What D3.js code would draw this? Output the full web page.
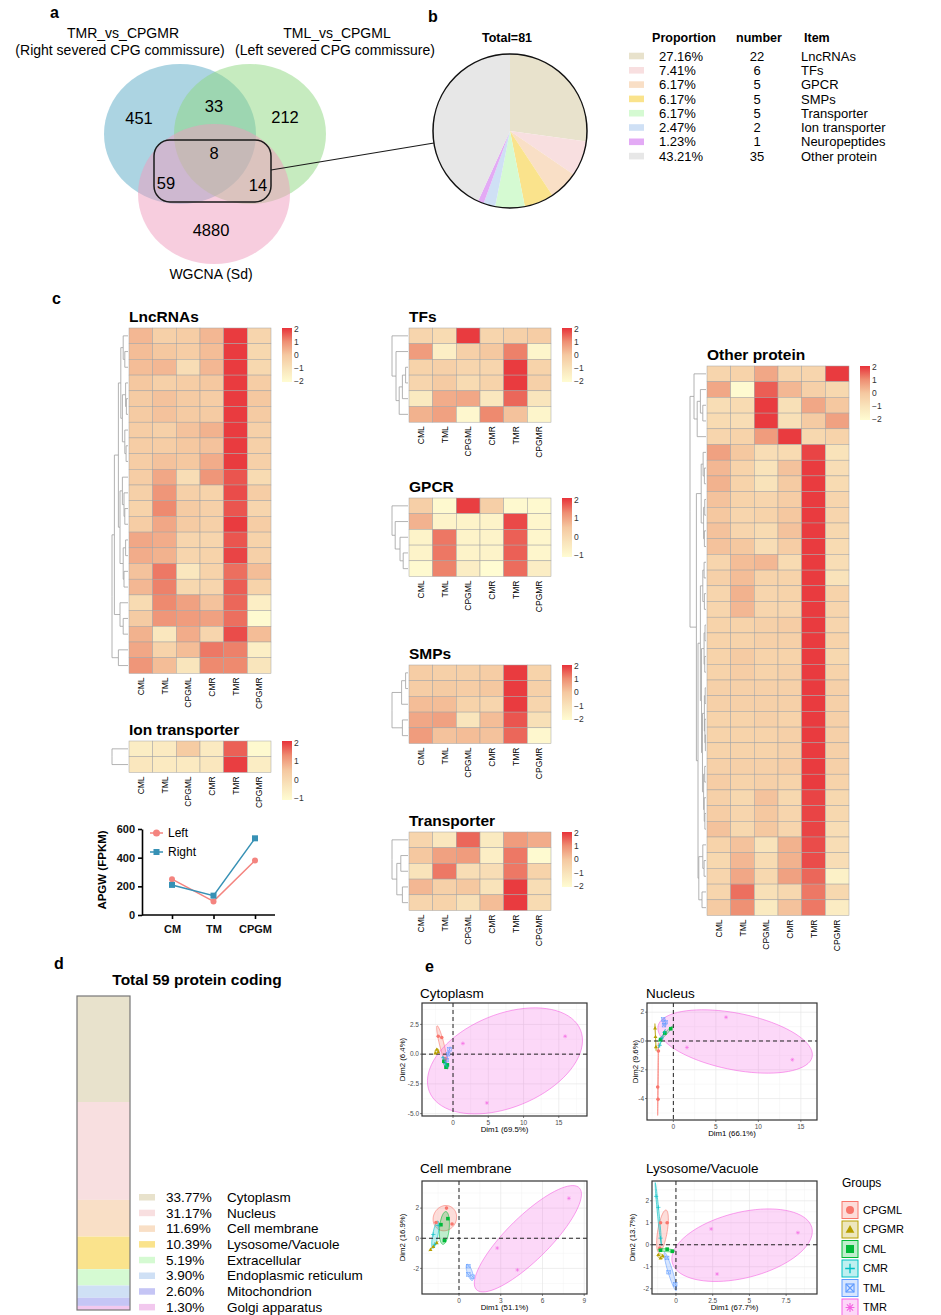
<!DOCTYPE html>
<html>
<head>
<meta charset="utf-8">
<script src="https://cdn.jsdelivr.net/npm/d3@7"></script>
<style>
  body { margin: 0; background: #fff; }
  svg { display: block; font-family: "Liberation Sans", Arial, Helvetica, sans-serif; }
</style>
</head>
<body>
<div id="mount"></div>
<script>
'use strict';

// ---------- data ----------

// a: Venn region counts
const vennCounts = [451, 33, 212, 8, 59, 14, 4880];

// b: overlap composition
const pieItems = ['LncRNAs', 'TFs', 'GPCR', 'SMPs', 'Transporter', 'Ion transporter', 'Neuropeptides', 'Other protein'];
const pieCounts = [22, 6, 5, 5, 5, 2, 1, 35];
const piePct = ['27.16%', '7.41%', '6.17%', '6.17%', '6.17%', '2.47%', '1.23%', '43.21%'];
const pieColors = ['#e8e2cc', '#f8dfe0', '#f9dfc6', '#fae38c', '#d5fad2', '#cfe0f5', '#e3aaf5', '#e7e7e7'];

// c: heatmaps (z-scores), columns in this order
const cols = ['CML', 'TML', 'CPGML', 'CMR', 'TMR', 'CPGMR'];

const lncRNAs = [
  [0.3, -0.3, -0.2, 0.3, 2, -0.5],
  [0.2, 0, -0.2, 0.2, 2, -0.6],
  [0.2, 0.3, -0.8, 0.3, 2, -0.6],
  [0, -0.3, -0.2, 0, 2, -0.2],
  [-0.1, 0.1, -0.1, -0.2, 2, 0],
  [-0.1, 0.1, -0.1, -0.1, 2, -0.1],
  [-0.2, -0.3, 0.1, 0.4, 2, -0.3],
  [-0.2, -0.2, 0, 0.1, 2, -0.3],
  [-0.2, 0.1, 0, 0.5, 2, -0.3],
  [-0.2, 0.6, -0.8, 0.9, 1.7, -0.7],
  [-0.3, 0.9, -0.3, -0.4, 1.8, -0.2],
  [-0.4, 1.1, -0.1, -0.3, 1.7, -0.5],
  [-0.2, 0.6, -0.1, -0.3, 2, -0.2],
  [0.6, 0.5, -0.5, -0.5, 1.7, -0.4],
  [0.5, 0.4, -0.5, -0.4, 1.9, -0.3],
  [0.1, 1.3, -1.2, -0.4, 1.4, 0.2],
  [0.3, 1.2, -0.6, -0.5, 1.6, -0.4],
  [-0.7, 1.1, 0.7, 0.1, 1.5, -1.5],
  [-0.1, 0.9, 0.8, 0.7, 1.4, -2],
  [0.4, -1.2, 0.5, -0.5, 1.8, 0.2],
  [0.6, -0.4, 0.2, 1.3, 1.2, -1.5],
  [0.9, 0.2, -1.1, 1.1, 1.1, -1.1]
];
const tfs = [
  [-0.5, -0.7, 2, -0.5, -0.3, -0.2],
  [0.8, -1.5, -0.3, 0, 1.2, -1.8],
  [-0.4, -0.3, -0.5, -0.5, 2, -0.4],
  [-0.5, -0.1, -0.7, -0.4, 2, -0.3],
  [-1.3, 0.5, 0.6, -1.2, 1.5, -1.1],
  [0.4, 0.7, -1.9, 1.1, 0.1, -1.8]
];
const gpcr = [
  [0.3, -1, 2, 0.3, -1, -1],
  [0.8, -0.8, -0.8, -0.8, 1.9, -0.9],
  [-0.8, 1.5, -0.8, -0.8, 1.7, -0.9],
  [-0.8, 1.5, -0.8, -0.8, 1.7, -0.9],
  [-1, 1.4, -0.6, -1.1, 1.6, -0.6]
];
const smps = [
  [-0.2, -0.3, -0.3, -0.2, 2, -0.4],
  [-0.2, -0.1, -0.2, 0, 2, -0.3],
  [0.2, 0.2, -0.4, -0.5, 2, -0.5],
  [0.6, 0.7, -1.1, 0.2, 1.7, -0.9],
  [0.8, 0.1, 0.2, 0.1, 1.5, -1.9]
];
const transporter = [
  [-0.5, -1.2, 1.5, -1.3, 0.8, 0.5],
  [0, 0.7, 0.8, -1.5, 1.3, -2],
  [-1, 1.3, -0.8, -0.8, 1.3, -0.4],
  [0.3, -0.3, 0, -1, 2, -0.8],
  [-0.5, -0.4, -0.9, 0.2, 2, -0.7]
];
const ionTransporter = [
  [-0.6, -0.5, 0.4, -0.5, 1.7, -1],
  [-0.4, -0.5, -0.5, -0.4, 2, -0.6]
];
const otherProtein = [
  [-0.5, -0.4, 0.6, -0.5, -0.5, 2],
  [0.6, -2, 1.6, 0.3, -0.3, -0.6],
  [-0.8, -0.7, 2, -0.9, 0.6, 0],
  [-0.7, -0.8, 2, -0.9, -0.1, 0.7],
  [-0.5, -0.4, 0.8, 2, -0.6, -0.4],
  [0.7, 0, -0.8, -0.7, 1.9, -1],
  [0.3, -0.4, -1, 0.1, 2, -0.8],
  [0.4, -0.4, -1, -0.1, 2, -0.7],
  [0.1, -0.4, -0.5, -0.2, 2, -0.5],
  [0, -0.5, -0.4, 0, 2, -0.5],
  [0.1, -0.5, -0.7, 0.1, 2, -0.6],
  [0.1, 0, -0.8, -0.2, 2, -0.7],
  [-0.5, 0.2, 0.3, -0.7, 2, -0.8],
  [-0.3, 0.2, -0.4, -0.4, 2, -1],
  [-0.5, 0.4, -0.5, -0.4, 2, -0.4],
  [-0.5, 0.3, -0.5, -0.5, 2, -0.5],
  [-0.4, -0.4, -0.3, -0.2, 2, -0.5],
  [-0.4, -0.4, -0.3, -0.3, 2, -0.4],
  [-0.4, -0.1, -0.4, -0.4, 2, -0.6],
  [-0.4, -0.2, -0.4, -0.3, 2, -0.4],
  [-0.3, -0.3, -0.3, -0.3, 2, -0.3],
  [-0.3, -0.3, -0.3, -0.3, 2, -0.3],
  [-0.4, -0.4, -0.3, -0.4, 2, -0.3],
  [-0.4, -0.4, -0.4, -0.3, 2, -0.3],
  [-0.4, -0.4, -0.4, -0.3, 2, -0.3],
  [-0.3, -0.3, -0.3, -0.2, 2, -0.3],
  [-0.2, -0.4, -0.3, -0.4, 2, -0.4],
  [-0.3, -0.6, 0.1, -0.6, 1.9, -0.6],
  [-0.2, -0.5, 0, -0.5, 1.9, -0.6],
  [0.1, -0.6, 0, -0.5, 1.9, -0.8],
  [-0.4, 0.1, -1, 0.4, 1.8, -0.8],
  [-0.6, 0.3, -0.7, 0.4, 1.8, -0.8],
  [-0.5, 0.6, -0.6, 0.7, 1.5, -1.6],
  [-0.5, 1.4, -0.9, -0.6, 1.3, -0.6],
  [-0.1, 1.0, -1.3, 0.1, 1.3, -1.4]
];

// row dendrograms: [mergeHeight, left, right], leaves are row indices
const lncTree = [1.0,
  [0.85,
    [0.6,
      [0.45, [0.3, 0, [0.2, 1, 2]], [0.35, [0.15, 3, [0.1, 4, 5]], [0.2, 6, [0.12, 7, 8]]]],
      [0.5, [0.35, 9, [0.25, 10, [0.2, 11, 12]]], [0.3, [0.15, 13, 14], [0.25, 15, 16]]]],
    [0.5, 17, [0.3, 18, 19]]],
  [0.6, 20, 21]];
const tfTree = [1.0, 0, [0.75, 1, [0.55, [0.35, [0.15, 2, 3], 4], 5]]];
const gpcrTree = [1.0, 0, [0.8, 1, [0.5, 2, [0.3, 3, 4]]]];
const smpTree = [1.0, [0.4, [0.15, 0, 1], 2], [0.35, 3, 4]];
const transTree = [1.0, 0, [0.7, [0.45, 1, 2], [0.35, 3, 4]]];
const ionTree = [1.0, 0, 1];
const otherTree = [1.0,
  [0.75, 0, [0.55, [0.35, 1, [0.2, 2, 3]], 4]],
  [0.6,
    [0.3, [0.18, 5, [0.1, 6, 7]], [0.15, [0.08, 8, 9], [0.1, 10, 11]]],
    [0.5,
      [0.35, [0.2, [0.12, 12, 13], [0.1, 14, 15]],
        [0.28, [0.12, [0.06, 16, 17], [0.08, 18, 19]],
          [0.22, [0.1, [0.05, 20, 21], [0.07, 22, [0.04, 23, 24]]],
            [0.15, [0.08, 25, 26], [0.11, 27, [0.07, 28, 29]]]]]],
      [0.45, [0.2, 30, [0.12, 31, 32]], [0.25, 33, 34]]]]];

// APGW line chart
const apgwGroups = ['CM', 'TM', 'CPGM'];
const apgwLeft = [250, 95, 380];
const apgwRight = [210, 135, 535];
const apgwTicks = [0, 200, 400, 600];

// d: subcellular location of 59 protein coding genes
const locNames = ['Cytoplasm', 'Nucleus', 'Cell membrane', 'Lysosome/Vacuole', 'Extracellular', 'Endoplasmic reticulum', 'Mitochondrion', 'Golgi apparatus'];
const locPct = [33.77, 31.17, 11.69, 10.39, 5.19, 3.90, 2.60, 1.30];
const locColors = ['#e8e2cc', '#f8dfe0', '#f9dfc6', '#fae38c', '#d5fad2', '#cfe0f5', '#c5c5f5', '#f2c8ee'];

// e: PCA scores [group, Dim1, Dim2]
const groups = ['CPGML', 'CPGMR', 'CML', 'CMR', 'TML', 'TMR'];
const groupColors = ['#F8766D', '#B79F00', '#00BA38', '#00BFC4', '#619CFF', '#F564E3'];
const groupShapes = ['circle', 'triangle', 'square', 'plus', 'squareX', 'asterisk'];

const pcaCytoplasm = [
  ['CPGML', -2.1, 1.5], ['CPGML', -1.6, 1.4], ['CPGML', -1.1, -0.4],
  ['CPGMR', -2.5, 0.1], ['CPGMR', -2.3, 0.4], ['CPGMR', -2.1, 0.2],
  ['CML', -1.3, -0.6], ['CML', -1.0, -1.1], ['CML', -0.8, -0.9],
  ['CMR', -1.4, -0.3], ['CMR', -1.1, -0.8], ['CMR', -0.9, -1.0],
  ['TML', -0.9, -0.5], ['TML', -0.7, 0.0], ['TML', -0.5, 0.4],
  ['TMR', 1.4, 0.9], ['TMR', 15.9, 1.5], ['TMR', 4.8, -4.1]
];
const pcaNucleus = [
  ['CPGML', -1.76, -0.7], ['CPGML', -1.84, -3.2], ['CPGML', -1.8, -4.05],
  ['CPGMR', -2.15, 0.9], ['CPGMR', -2.1, 0.3], ['CPGMR', -2.05, -0.4],
  ['CML', -1.5, 0.1], ['CML', -1.0, 0.55], ['CML', -0.3, 0.85],
  ['CMR', -1.6, -0.3], ['CMR', -1.35, 0.2], ['CMR', -1.05, 0.6],
  ['TML', -1.2, 1.5], ['TML', -0.9, 1.3], ['TML', -1.1, 1.1],
  ['TMR', 6.2, 1.65], ['TMR', 1.6, -0.45], ['TMR', 14.0, -1.3]
];
const pcaCellMembrane = [
  ['CPGML', -0.9, 2.0], ['CPGML', -1.65, 1.05], ['CPGML', -0.5, 0.95],
  ['CPGMR', -2.05, -0.75], ['CPGMR', -1.85, -0.55], ['CPGMR', -1.6, -0.3],
  ['CML', -0.8, 1.3], ['CML', -1.3, 0.9], ['CML', -1.05, -0.15],
  ['CMR', -1.85, 0.25], ['CMR', -1.5, 0.85], ['CMR', -1.75, -0.4],
  ['TML', 0.67, -1.85], ['TML', 0.67, -2.4], ['TML', 0.98, -2.55],
  ['TMR', 7.9, 2.65], ['TMR', 2.75, -0.65], ['TMR', 4.2, -2.1]
];
const pcaLysosome = [
  ['CPGML', -1.05, 1.0], ['CPGML', -0.6, 1.0], ['CPGML', -1.1, -0.15],
  ['CPGMR', -1.2, -0.45], ['CPGMR', -1.05, -0.6], ['CPGMR', -0.9, -0.5],
  ['CML', -1.05, -0.25], ['CML', -0.6, -0.2], ['CML', -0.25, -0.3],
  ['CMR', -1.35, 2.2], ['CMR', -1.2, 1.7], ['CMR', -1.05, 0.3],
  ['TML', -0.6, -0.6], ['TML', -0.5, -1.25], ['TML', -0.05, -1.8],
  ['TMR', 2.4, 0.72], ['TMR', 8.3, 0.55], ['TMR', 2.8, -1.33]
];

// ---------- drawing ----------

const svg = d3.select('#mount').append('svg')
    .attr('width', 941)
    .attr('height', 1315);

const defs = svg.append('defs');

function panelLabel(t, x, y) {
  svg.append('text').attr('x', x).attr('y', y).text(t)
      .style('font-size', '16px').style('font-weight', 'bold');
}

panelLabel('a', 50, 18);
panelLabel('b', 428, 22);
panelLabel('c', 52, 304);
panelLabel('d', 54, 969);
panelLabel('e', 425, 972);

// ----- a: Venn -----
const vennCircles = [
  { cx: 180, cy: 134, fill: '#5aa9c6' },
  { cx: 250, cy: 134, fill: '#8dd87f' },
  { cx: 214, cy: 194, fill: '#ef9cbd' }
];
svg.append('g').selectAll('ellipse').data(vennCircles).join('ellipse')
    .attr('cx', d => d.cx).attr('cy', d => d.cy)
    .attr('rx', 76).attr('ry', 70)
    .attr('fill', d => d.fill)
    .attr('fill-opacity', 0.5);

const vennPos = [[139, 118], [214, 106], [285, 117], [214, 153], [166, 183], [258, 185], [211, 230]];
svg.append('g').selectAll('text').data(vennCounts).join('text')
    .attr('x', (d, i) => vennPos[i][0])
    .attr('y', (d, i) => vennPos[i][1])
    .attr('dy', '0.36em')
    .attr('text-anchor', 'middle')
    .style('font-size', '16.5px')
    .text(d => d);

const vennTitles = [
  ['TMR_vs_CPGMR', 123, 38], ['(Right severed CPG commissure)', 120, 55],
  ['TML_vs_CPGML', 337, 38], ['(Left severed CPG commissure)', 335, 55],
  ['WGCNA (Sd)', 211, 279]
];
svg.append('g').selectAll('text').data(vennTitles).join('text')
    .attr('x', d => d[1]).attr('y', d => d[2])
    .attr('text-anchor', 'middle')
    .style('font-size', '14px')
    .text(d => d[0]);

svg.append('rect')
    .attr('x', 154).attr('y', 140).attr('width', 117).attr('height', 62).attr('rx', 16)
    .attr('fill', 'none').attr('stroke', '#1a1a1a').attr('stroke-width', 1.5);
svg.append('line')
    .attr('x1', 271).attr('y1', 170).attr('x2', 434).attr('y2', 143)
    .attr('stroke', '#1a1a1a').attr('stroke-width', 1.2);

// ----- b: pie -----
const pieR = 77;
const pieG = svg.append('g').attr('transform', 'translate(510,131)');
pieG.selectAll('path').data(d3.pie().sort(null)(pieCounts)).join('path')
    .attr('d', d3.arc().innerRadius(0).outerRadius(pieR))
    .attr('fill', (d, i) => pieColors[i]);
pieG.append('circle').attr('r', pieR)
    .attr('fill', 'none').attr('stroke', '#111').attr('stroke-width', 1.5);
svg.append('text').attr('x', 507).attr('y', 42).attr('text-anchor', 'middle')
    .style('font-size', '12.5px').style('font-weight', 'bold').text('Total=81');

const legB = svg.append('g');
[['Proportion', 684, 'middle'], ['number', 759, 'middle'], ['Item', 804, 'start']].forEach(h => {
  legB.append('text').attr('x', h[1]).attr('y', 42).attr('text-anchor', h[2])
      .style('font-size', '12.5px').style('font-weight', 'bold').text(h[0]);
});
const rowB = legB.selectAll('g.row').data(pieItems).join('g')
    .attr('class', 'row')
    .attr('transform', (d, i) => `translate(0,${56 + i * 14.3})`);
rowB.append('rect').attr('x', 629).attr('y', -3.3).attr('width', 15).attr('height', 6.6)
    .attr('fill', (d, i) => pieColors[i]);
rowB.append('text').attr('x', 659).attr('dy', '0.36em').style('font-size', '13px')
    .text((d, i) => piePct[i]);
rowB.append('text').attr('x', 757).attr('dy', '0.36em').attr('text-anchor', 'middle')
    .style('font-size', '13px').text((d, i) => pieCounts[i]);
rowB.append('text').attr('x', 801).attr('dy', '0.36em').style('font-size', '13px')
    .text(d => d);

// ----- c: heatmaps -----
const heatColors = ['#fffcd2', '#f9e4bb', '#f5c8a0', '#ee8e72', '#e8323a'];
const cellW = 142 / 6, cellH = 15.7, dendroW = 16;

const heatmaps = [
  { title: 'LncRNAs', data: lncRNAs, tree: lncTree, x0: 129, y0: 328, lo: -2.1, hi: 2.1, barH: 54 },
  { title: 'TFs', data: tfs, tree: tfTree, x0: 409, y0: 328, lo: -2.1, hi: 2.1, barH: 54 },
  { title: 'GPCR', data: gpcr, tree: gpcrTree, x0: 409, y0: 498, lo: -1.1, hi: 2.1, barH: 59 },
  { title: 'SMPs', data: smps, tree: smpTree, x0: 409, y0: 665, lo: -2.1, hi: 2.1, barH: 55 },
  { title: 'Transporter', data: transporter, tree: transTree, x0: 409, y0: 832, lo: -2.1, hi: 2.1, barH: 55 },
  { title: 'Ion transporter', data: ionTransporter, tree: ionTree, x0: 129, y0: 741, lo: -1.1, hi: 2.1, barH: 59 },
  { title: 'Other protein', data: otherProtein, tree: otherTree, x0: 707, y0: 366, lo: -2.1, hi: 2.1, barH: 54 }
];

heatmaps.forEach((hm, k) => {
  const n = hm.data.length;
  const x = d3.scaleBand().domain(cols).range([0, cellW * cols.length]);
  const y = d3.scaleBand().domain(d3.range(n)).range([0, cellH * n]);
  const stops = heatColors.map((c, i) => hm.lo + (hm.hi - hm.lo) * i / (heatColors.length - 1));
  const color = d3.scaleLinear().domain(stops).range(heatColors).clamp(true);

  const g = svg.append('g').attr('transform', `translate(${hm.x0},${hm.y0})`);

  g.append('text').attr('x', 0).attr('y', -6)
      .style('font-size', '15.5px').style('font-weight', 'bold').text(hm.title);

  // cells
  const cells = [];
  hm.data.forEach((row, r) => row.forEach((v, c) => cells.push({ r, c: cols[c], v })));
  g.selectAll('rect.cell').data(cells).join('rect')
      .attr('class', 'cell')
      .attr('x', d => x(d.c)).attr('y', d => y(d.r))
      .attr('width', x.bandwidth()).attr('height', y.bandwidth())
      .attr('fill', d => color(d.v))
      .attr('stroke', '#a3a3a3').attr('stroke-width', 0.5);

  // column labels
  g.selectAll('text.col').data(cols).join('text')
      .attr('class', 'col')
      .attr('text-anchor', 'end')
      .attr('transform', d => `translate(${x(d) + x.bandwidth() / 2 + 3},${cellH * n + 4}) rotate(-90)`)
      .style('font-size', '8.5px')
      .text(d => d);

  // dendrogram
  const root = d3.hierarchy(hm.tree, d => Array.isArray(d) ? d.slice(1) : null);
  d3.cluster().size([cellH * n, dendroW]).separation(() => 1)(root);
  const hx = d3.scaleLinear().domain([hm.tree[0], 0]).range([-dendroW - 1, -1]);
  const hOf = d => Array.isArray(d.data) ? d.data[0] : 0;
  g.append('g').selectAll('path').data(root.links()).join('path')
      .attr('d', l => `M${hx(hOf(l.source))},${l.source.x}V${l.target.x}H${hx(hOf(l.target))}`)
      .attr('fill', 'none').attr('stroke', '#a0a0a0').attr('stroke-width', 0.8);

  // colour bar
  const barX = 142 + 11;
  const gid = 'grad' + k;
  const grad = defs.append('linearGradient').attr('id', gid)
      .attr('x1', 0).attr('y1', 1).attr('x2', 0).attr('y2', 0);
  stops.forEach((s, i) => grad.append('stop')
      .attr('offset', i / (stops.length - 1)).attr('stop-color', color(s)));
  g.append('rect').attr('x', barX).attr('y', 0).attr('width', 10).attr('height', hm.barH)
      .attr('fill', `url(#${gid})`);
  const by = d3.scaleLinear().domain([hm.lo, hm.hi]).range([hm.barH, 0]);
  const bticks = d3.range(Math.ceil(hm.lo), Math.floor(hm.hi) + 1);
  g.selectAll('text.bt').data(bticks).join('text')
      .attr('class', 'bt')
      .attr('x', barX + 12).attr('y', d => by(d)).attr('dy', '0.35em')
      .style('font-size', '8.5px').style('fill', '#333')
      .text(d => d < 0 ? '\u2212' + Math.abs(d) : d);
});

// ----- APGW line chart -----
const lx = d3.scalePoint().domain(apgwGroups).range([172, 255]);
const ly = d3.scaleLinear().domain([0, 600]).range([915, 829]);
const lineG = svg.append('g');
const leftCol = '#f4847f', rightCol = '#3791b5';

const yAx = lineG.append('g').attr('transform', 'translate(142,0)')
    .call(d3.axisLeft(ly).tickValues(apgwTicks).tickSize(4).tickSizeOuter(0));
yAx.select('.domain').attr('stroke-width', 1.6);
yAx.selectAll('.tick line').attr('stroke-width', 1.6);
yAx.selectAll('.tick text').style('font-size', '11px').style('font-weight', 'bold')
    .style('font-family', 'inherit').attr('fill', '#111');

const xAx = lineG.append('g').attr('transform', 'translate(0,915)')
    .call(d3.axisBottom(lx).tickSize(4));
xAx.select('.domain').remove();
xAx.selectAll('.tick line').attr('stroke-width', 1.6);
xAx.selectAll('.tick text').style('font-size', '11px').style('font-weight', 'bold')
    .style('font-family', 'inherit').attr('fill', '#111').attr('dy', '1em');
lineG.append('line').attr('x1', 142).attr('x2', 275).attr('y1', 915).attr('y2', 915)
    .attr('stroke', '#000').attr('stroke-width', 1.6);

lineG.append('text')
    .attr('transform', 'translate(106,870) rotate(-90)')
    .attr('text-anchor', 'middle')
    .style('font-size', '11.5px').style('font-weight', 'bold')
    .text('APGW (FPKM)');

const lineGen = d3.line().x((d, i) => lx(apgwGroups[i])).y(d => ly(d));
lineG.append('path').datum(apgwLeft).attr('d', lineGen)
    .attr('fill', 'none').attr('stroke', leftCol).attr('stroke-width', 1.5);
lineG.append('path').datum(apgwRight).attr('d', lineGen)
    .attr('fill', 'none').attr('stroke', rightCol).attr('stroke-width', 1.5);
lineG.selectAll('circle.l').data(apgwLeft).join('circle').attr('class', 'l')
    .attr('cx', (d, i) => lx(apgwGroups[i])).attr('cy', d => ly(d)).attr('r', 3)
    .attr('fill', leftCol);
lineG.selectAll('rect.r').data(apgwRight).join('rect').attr('class', 'r')
    .attr('x', (d, i) => lx(apgwGroups[i]) - 3).attr('y', d => ly(d) - 3)
    .attr('width', 6).attr('height', 6).attr('fill', rightCol);

// legend
lineG.append('line').attr('x1', 150).attr('x2', 163).attr('y1', 833).attr('y2', 833)
    .attr('stroke', leftCol).attr('stroke-width', 1.5);
lineG.append('circle').attr('cx', 156.5).attr('cy', 833).attr('r', 3.5).attr('fill', leftCol);
lineG.append('text').attr('x', 168).attr('y', 833).attr('dy', '0.36em')
    .style('font-size', '12px').text('Left');
lineG.append('line').attr('x1', 150).attr('x2', 163).attr('y1', 852).attr('y2', 852)
    .attr('stroke', rightCol).attr('stroke-width', 1.5);
lineG.append('rect').attr('x', 153.5).attr('y', 849).attr('width', 6).attr('height', 6).attr('fill', rightCol);
lineG.append('text').attr('x', 168).attr('y', 852).attr('dy', '0.36em')
    .style('font-size', '12px').text('Right');

// ----- d: stacked bar -----
const dY = d3.scaleLinear().domain([0, d3.sum(locPct)]).range([996, 1310]);
const cum = [0, ...d3.cumsum(locPct)];
const dG = svg.append('g');
dG.append('text').attr('x', 197).attr('y', 985).attr('text-anchor', 'middle')
    .style('font-size', '15.5px').style('font-weight', 'bold').text('Total 59 protein coding');
dG.selectAll('rect.seg').data(locPct).join('rect').attr('class', 'seg')
    .attr('x', 77).attr('width', 53)
    .attr('y', (d, i) => dY(cum[i])).attr('height', d => dY(d) - dY(0))
    .attr('fill', (d, i) => locColors[i]);
dG.append('rect').attr('x', 77).attr('y', 996).attr('width', 53).attr('height', 314)
    .attr('fill', 'none').attr('stroke', '#777').attr('stroke-width', 1.2);

const rowD = dG.selectAll('g.row').data(locNames).join('g').attr('class', 'row')
    .attr('transform', (d, i) => `translate(0,${1197 + i * 15.7})`);
rowD.append('rect').attr('x', 139).attr('y', -3).attr('width', 16).attr('height', 6.5)
    .attr('fill', (d, i) => locColors[i]);
rowD.append('text').attr('x', 166).attr('dy', '0.36em').style('font-size', '13.5px')
    .text((d, i) => locPct[i].toFixed(2) + '%');
rowD.append('text').attr('x', 227).attr('dy', '0.36em').style('font-size', '13.5px')
    .text(d => d);

// ----- e: PCA panels -----
function drawMarker(g, shape, cx, cy, s, col) {
  const h = s / 2;
  if (shape === 'circle') {
    g.append('circle').attr('cx', cx).attr('cy', cy).attr('r', h).attr('fill', col);
  } else if (shape === 'triangle') {
    g.append('path').attr('d', `M${cx},${cy - h * 1.1}L${cx + h * 1.1},${cy + h * 0.8}L${cx - h * 1.1},${cy + h * 0.8}Z`)
        .attr('fill', col);
  } else if (shape === 'square') {
    g.append('rect').attr('x', cx - h).attr('y', cy - h).attr('width', s).attr('height', s).attr('fill', col);
  } else if (shape === 'plus') {
    g.append('path').attr('d', `M${cx - h * 1.2},${cy}H${cx + h * 1.2}M${cx},${cy - h * 1.2}V${cy + h * 1.2}`)
        .attr('stroke', col).attr('stroke-width', s / 6);
  } else if (shape === 'squareX') {
    g.append('rect').attr('x', cx - h).attr('y', cy - h).attr('width', s).attr('height', s)
        .attr('fill', 'none').attr('stroke', col).attr('stroke-width', s / 7);
    g.append('path').attr('d', `M${cx - h},${cy - h}L${cx + h},${cy + h}M${cx + h},${cy - h}L${cx - h},${cy + h}`)
        .attr('stroke', col).attr('stroke-width', s / 7);
  } else {
    const a = h * 1.1, b = h * 0.78;
    g.append('path')
        .attr('d', `M${cx - a},${cy}H${cx + a}M${cx},${cy - a}V${cy + a}M${cx - b},${cy - b}L${cx + b},${cy + b}M${cx + b},${cy - b}L${cx - b},${cy + b}`)
        .attr('stroke', col).attr('stroke-width', s / 7);
  }
}

function ellipsePoints(pts, k) {
  const n = pts.length;
  const mx = d3.mean(pts, p => p[0]), my = d3.mean(pts, p => p[1]);
  let sxx = 0, syy = 0, sxy = 0;
  pts.forEach(p => {
    const dx = p[0] - mx, dy = p[1] - my;
    sxx += dx * dx; syy += dy * dy; sxy += dx * dy;
  });
  sxx /= n - 1; syy /= n - 1; sxy /= n - 1;
  const tr = sxx + syy, det = sxx * syy - sxy * sxy;
  const disc = Math.sqrt(Math.max(tr * tr / 4 - det, 0));
  const l1 = tr / 2 + disc, l2 = Math.max(tr / 2 - disc, 0);
  const ang = Math.abs(sxy) > 1e-12 ? Math.atan2(l1 - sxx, sxy) : (sxx >= syy ? 0 : Math.PI / 2);
  const a = k * Math.sqrt(l1), b = k * Math.sqrt(l2);
  return d3.range(0, 2 * Math.PI, Math.PI / 40).map(t => [
    mx + a * Math.cos(t) * Math.cos(ang) - b * Math.sin(t) * Math.sin(ang),
    my + a * Math.cos(t) * Math.sin(ang) + b * Math.sin(t) * Math.cos(ang)
  ]);
}

const pcaPanels = [
  { title: 'Cytoplasm', data: pcaCytoplasm, box: [422, 1003, 587, 1116], xDom: [-4.4, 19.0], yDom: [-5.2, 4.3],
    xTicks: [0, 5, 10, 15], yTicks: [-5, -2.5, 0, 2.5], yFmt: v => v.toFixed(1),
    xTitle: 'Dim1 (69.5%)', yTitle: 'Dim2 (6.4%)', titleX: 420, titleY: 998, yTitleX: 402 },
  { title: 'Nucleus', data: pcaNucleus, box: [647, 1003, 817, 1120], xDom: [-3.1, 16.9], yDom: [-5.49, 2.64],
    xTicks: [0, 5, 10, 15], yTicks: [-4, -2, 0, 2], yFmt: v => String(v),
    xTitle: 'Dim1 (66.1%)', yTitle: 'Dim2 (9.6%)', titleX: 646, titleY: 998, yTitleX: 635 },
  { title: 'Cell membrane', data: pcaCellMembrane, box: [422, 1181, 587, 1294], xDom: [-2.66, 9.2], yDom: [-3.7, 3.8],
    xTicks: [0, 3, 6, 9], yTicks: [-2, 0, 2], yFmt: v => String(v),
    xTitle: 'Dim1 (51.1%)', yTitle: 'Dim2 (16.9%)', titleX: 420, titleY: 1173, yTitleX: 402 },
  { title: 'Lysosome/Vacuole', data: pcaLysosome, box: [652, 1181, 817, 1294], xDom: [-1.63, 9.6], yDom: [-2.24, 2.9],
    xTicks: [0, 2.5, 5, 7.5], yTicks: [-2, -1, 0, 1, 2], yFmt: v => String(v),
    xTitle: 'Dim1 (67.7%)', yTitle: 'Dim2 (13.7%)', titleX: 646, titleY: 1173, yTitleX: 632 }
];

pcaPanels.forEach((p, k) => {
  const [l, t, r, b] = p.box;
  const x = d3.scaleLinear().domain(p.xDom).range([l, r]);
  const y = d3.scaleLinear().domain(p.yDom).range([b, t]);
  const g = svg.append('g');
  const cid = 'clip' + k;
  defs.append('clipPath').attr('id', cid).append('rect')
      .attr('x', l).attr('y', t).attr('width', r - l).attr('height', b - t);

  const minor = (ticks, dom) => {
    const st = ticks[1] - ticks[0];
    return d3.range(ticks[0] - 6 * st + st / 2, ticks[ticks.length - 1] + 6 * st, st)
        .filter(v => v > dom[0] && v < dom[1]);
  };
  const grid = g.append('g').attr('clip-path', `url(#${cid})`);
  grid.selectAll('line.mx').data(minor(p.xTicks, p.xDom)).join('line').attr('class', 'mx')
      .attr('x1', d => x(d)).attr('x2', d => x(d)).attr('y1', t).attr('y2', b)
      .attr('stroke', '#f3f3f3').attr('stroke-width', 0.5);
  grid.selectAll('line.my').data(minor(p.yTicks, p.yDom)).join('line').attr('class', 'my')
      .attr('y1', d => y(d)).attr('y2', d => y(d)).attr('x1', l).attr('x2', r)
      .attr('stroke', '#f3f3f3').attr('stroke-width', 0.5);
  grid.selectAll('line.gx').data(p.xTicks).join('line').attr('class', 'gx')
      .attr('x1', d => x(d)).attr('x2', d => x(d)).attr('y1', t).attr('y2', b)
      .attr('stroke', '#e6e6e6').attr('stroke-width', 0.7);
  grid.selectAll('line.gy').data(p.yTicks).join('line').attr('class', 'gy')
      .attr('y1', d => y(d)).attr('y2', d => y(d)).attr('x1', l).attr('x2', r)
      .attr('stroke', '#e6e6e6').attr('stroke-width', 0.7);

  const plot = g.append('g').attr('clip-path', `url(#${cid})`);
  groups.forEach((grp, gi) => {
    const pts = p.data.filter(d => d[0] === grp).map(d => [d[1], d[2]]);
    const ell = ellipsePoints(pts, 1.45);
    plot.append('path')
        .attr('d', d3.line().x(d => x(d[0])).y(d => y(d[1])).curve(d3.curveLinearClosed)(ell))
        .attr('fill', groupColors[gi]).attr('fill-opacity', 0.25)
        .attr('stroke', groupColors[gi]).attr('stroke-width', 0.6);
  });
  plot.append('line').attr('x1', x(0)).attr('x2', x(0)).attr('y1', t).attr('y2', b)
      .attr('stroke', '#222').attr('stroke-width', 1).attr('stroke-dasharray', '4,3');
  plot.append('line').attr('y1', y(0)).attr('y2', y(0)).attr('x1', l).attr('x2', r)
      .attr('stroke', '#222').attr('stroke-width', 1).attr('stroke-dasharray', '4,3');
  p.data.forEach(d => {
    const gi = groups.indexOf(d[0]);
    drawMarker(plot, groupShapes[gi], x(d[1]), y(d[2]), 3.6, groupColors[gi]);
  });

  g.append('rect').attr('x', l).attr('y', t).attr('width', r - l).attr('height', b - t)
      .attr('fill', 'none').attr('stroke', '#333').attr('stroke-width', 1.2);

  // ticks
  g.selectAll('line.tx').data(p.xTicks).join('line').attr('class', 'tx')
      .attr('x1', d => x(d)).attr('x2', d => x(d)).attr('y1', b).attr('y2', b + 2)
      .attr('stroke', '#333').attr('stroke-width', 0.6);
  g.selectAll('text.tx').data(p.xTicks).join('text').attr('class', 'tx')
      .attr('x', d => x(d)).attr('y', b + 8.5).attr('text-anchor', 'middle')
      .style('font-size', '6.5px').style('fill', '#4d4d4d').text(d => String(d));
  g.selectAll('line.ty').data(p.yTicks).join('line').attr('class', 'ty')
      .attr('y1', d => y(d)).attr('y2', d => y(d)).attr('x1', l - 2).attr('x2', l)
      .attr('stroke', '#333').attr('stroke-width', 0.6);
  g.selectAll('text.ty').data(p.yTicks).join('text').attr('class', 'ty')
      .attr('x', l - 3).attr('y', d => y(d)).attr('dy', '0.35em').attr('text-anchor', 'end')
      .style('font-size', '6.5px').style('fill', '#4d4d4d').text(p.yFmt);

  g.append('text').attr('x', p.titleX).attr('y', p.titleY)
      .style('font-size', '13.5px').text(p.title);
  g.append('text').attr('x', (l + r) / 2).attr('y', Math.min(b + 16, 1310)).attr('text-anchor', 'middle')
      .style('font-size', '7.8px').text(p.xTitle);
  g.append('text').attr('transform', `translate(${p.yTitleX},${(t + b) / 2}) rotate(-90)`)
      .attr('text-anchor', 'middle').attr('dy', '0.35em')
      .style('font-size', '7.8px').text(p.yTitle);
});

// groups legend
const legE = svg.append('g');
legE.append('text').attr('x', 842).attr('y', 1187).style('font-size', '12px').text('Groups');
groups.forEach((grp, gi) => {
  const cy = 1210 + gi * 19.5;
  legE.append('rect').attr('x', 842).attr('y', cy - 8.5).attr('width', 16).attr('height', 17)
      .attr('fill', groupColors[gi]).attr('fill-opacity', 0.25)
      .attr('stroke', groupColors[gi]).attr('stroke-width', 1);
  drawMarker(legE, groupShapes[gi], 850, cy, 8, groupColors[gi]);
  legE.append('text').attr('x', 863).attr('y', cy).attr('dy', '0.36em')
      .style('font-size', '11px').text(grp);
});
</script>
</body>
</html>
